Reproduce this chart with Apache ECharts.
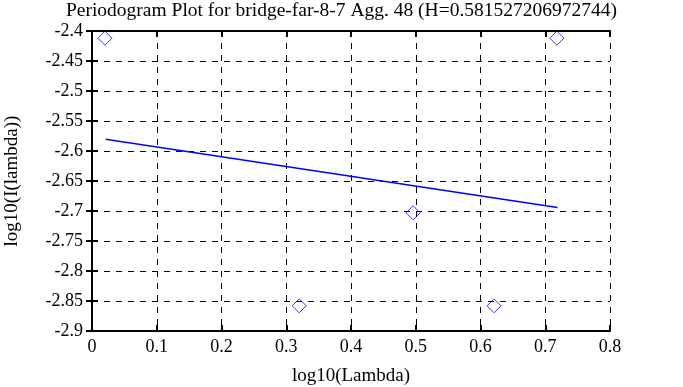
<!DOCTYPE html>
<html><head><meta charset="utf-8">
<script src="https://cdn.jsdelivr.net/npm/echarts@6/dist/echarts.min.js"></script>
<style>html,body{margin:0;padding:0;background:#fff}#c{width:683px;height:387px}</style>
</head><body><div id="c"></div>
<script>
var titleText = 'Periodogram Plot for bridge-far-8-7 Agg. 48 (H=0.581527206972744)';
var xName = 'log10(Lambda)';
var yName = 'log10(I(lambda))';
var pointX = [0.020, 0.320, 0.496, 0.621, 0.718];
var pointY = [-2.412, -2.858, -2.703, -2.858, -2.412];
var fitX = [0.021, 0.719];
var fitY = [-2.5805, -2.694];

var font = 'Liberation Serif';
var chart = echarts.init(document.getElementById('c'), null, {renderer:'canvas'});
var pts = pointX.map(function(x,i){return [x, pointY[i]];});
var fit = fitX.map(function(x,i){return [x, fitY[i]];});
var axisCommon = {
  axisLine:{show:true, lineStyle:{color:'#000', width:2}},
  axisTick:{show:true, inside:true, length:6, lineStyle:{color:'#000', width:2}},
  splitLine:{show:true, lineStyle:{color:'#000', type:[6,6], width:1}},
};
chart.setOption({
  animation:false,
  backgroundColor:'#fff',
  title:{text:titleText, left:'center', top:-4, textStyle:{fontFamily:font, fontSize:19.5, fontWeight:'normal', color:'#000'}},
  grid:{left:92, right:73, top:31, bottom:56, containLabel:false, outerBoundsMode:'none'},
  xAxis:[
    Object.assign({type:'value', min:0, max:0.8, interval:0.1, position:'bottom',
      name:xName, nameLocation:'middle', nameGap:36,
      nameTextStyle:{fontFamily:font, fontSize:19, color:'#000'},
      axisLabel:{fontFamily:font, fontSize:18, color:'#000', margin:7}}, axisCommon),
    {type:'value', min:0, max:0.8, interval:0.1, position:'top',
      axisLine:{show:true, lineStyle:{color:'#000', width:2}},
      axisTick:{show:true, inside:true, length:6, lineStyle:{color:'#000', width:2}},
      axisLabel:{show:false}, splitLine:{show:false}}
  ],
  yAxis:[
    Object.assign({type:'value', min:-2.9, max:-2.4, interval:0.05, position:'left',
      name:yName, nameLocation:'middle', nameGap:70, nameRotate:90,
      nameTextStyle:{fontFamily:font, fontSize:19, color:'#000'},
      axisLabel:{fontFamily:font, fontSize:18, color:'#000', margin:9,
        formatter:function(v){return String(+v.toFixed(2));}}}, axisCommon),
    {type:'value', min:-2.9, max:-2.4, interval:0.05, position:'right',
      axisLine:{show:true, lineStyle:{color:'#000', width:2}},
      axisTick:{show:true, inside:true, length:6, lineStyle:{color:'#000', width:2}},
      axisLabel:{show:false}, splitLine:{show:false}}
  ],
  series:[
    {type:'scatter', data:pts, symbol:'diamond', symbolSize:[14,14],
      itemStyle:{color:'rgba(255,255,255,0)', borderColor:'#0000ff', borderWidth:1}, z:5},
    {type:'line', data:fit, symbol:'none', lineStyle:{color:'#0000ff', width:1.5}, z:4}
  ]
});
</script></body></html>
